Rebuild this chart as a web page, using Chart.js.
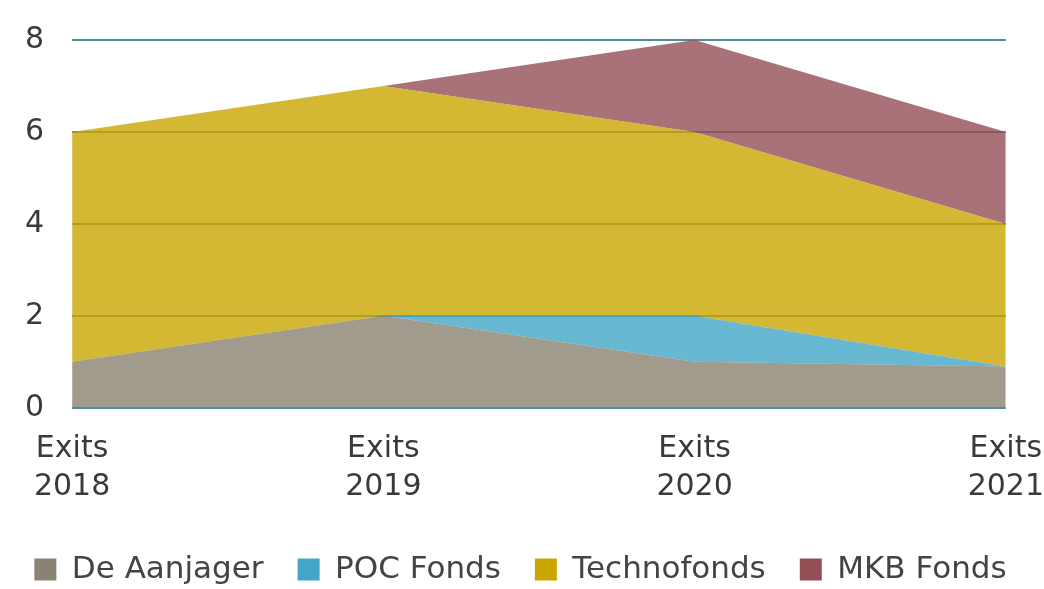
<!DOCTYPE html>
<html>
<head>
<meta charset="utf-8">
<script src="https://cdn.jsdelivr.net/npm/chart.js@4.4.1/dist/chart.umd.min.js"></script>
<style>
  html, body { margin: 0; padding: 0; background: #ffffff; }
  #wrap { width: 1044px; height: 589px; position: relative; }
</style>
</head>
<body>
<div id="wrap"><canvas id="c" width="1044" height="589"></canvas></div>
<script>
const categories = [["Exits", "2018"], ["Exits", "2019"], ["Exits", "2020"], ["Exits", "2021"]];
const seriesNames = ["De Aanjager", "POC Fonds", "Technofonds", "MKB Fonds"];
const deAanjager = [1, 2, 1, 0.9];
const pocFonds = [0, 0, 1, 0];
const technofonds = [5, 5, 4, 3.1];
const mkbFonds = [0, 0, 2, 2];
const yTicks = [0, 2, 4, 6, 8];

const solidColors = ["#8a8272", "#44a6c6", "#c9a500", "#944e56"];
const fillColors = ["rgba(138,130,114,0.8)", "rgba(68,166,198,0.8)", "rgba(201,165,0,0.8)", "rgba(148,78,86,0.8)"];
const values = [deAanjager, pocFonds, technofonds, mkbFonds];

const FONT = "'DejaVu Sans', sans-serif";

const datasets = values.map((v, i) => ({
  label: seriesNames[i],
  data: v,
  backgroundColor: fillColors[i],
  borderColor: fillColors[i],
  borderWidth: 0,
  pointRadius: 0,
  pointHoverRadius: 0,
  tension: 0,
  fill: i === 0 ? 'origin' : '-1'
}));

new Chart(document.getElementById('c'), {
  type: 'line',
  data: { labels: categories, datasets },
  options: {
    responsive: false,
    animation: false,
    layout: { padding: { top: 40, right: 0, left: -3, bottom: -6 } },
    plugins: {
      tooltip: { enabled: false },
      legend: {
        position: 'bottom',
        labels: {
          boxWidth: 22,
          boxHeight: 22,
          padding: 34,
          color: '#444444',
          font: { family: FONT, size: 31 },
          generateLabels: (chart) => seriesNames.map((n, i) => ({
            text: n,
            fillStyle: solidColors[i],
            strokeStyle: solidColors[i],
            lineWidth: 0,
            fontColor: '#444444',
            datasetIndex: i
          }))
        }
      }
    },
    scales: {
      x: {
        stacked: true,
        offset: false,
        grid: { display: true, drawOnChartArea: false, drawTicks: true, tickLength: 22, tickColor: 'rgba(0,0,0,0)', color: 'rgba(0,0,0,0)' },
        border: { display: false },
        afterFit: (scale) => { scale.height += 14; },
        ticks: {
          color: '#3a3a3a',
          font: { family: FONT, size: 30, lineHeight: 1.27 },
          padding: 0,
          maxRotation: 0,
          autoSkip: false,
          align: 'center'
        }
      },
      y: {
        stacked: true,
        min: 0,
        max: 8,
        afterBuildTicks: (axis) => { axis.ticks = yTicks.map(v => ({ value: v })); },
        afterFit: (scale) => { scale.paddingTop = 0; },
        grid: { color: '#4f8d92', lineWidth: 2, drawTicks: false },
        border: { display: false },
        ticks: {
          color: '#3a3a3a',
          font: { family: FONT, size: 30, lineHeight: 1.0 },
          padding: 28
        }
      }
    }
  }
});
</script>
</body>
</html>
